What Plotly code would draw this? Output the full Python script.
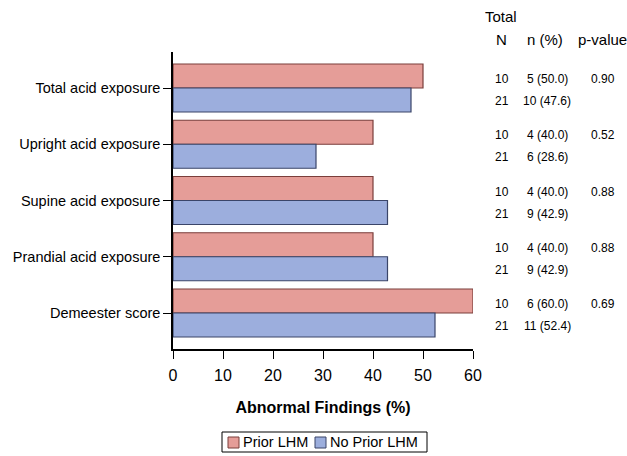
import plotly.graph_objects as go

# Outcome categories (top to bottom)
categories = [
    "Total acid exposure",
    "Upright acid exposure",
    "Supine acid exposure",
    "Prandial acid exposure",
    "Demeester score",
]

# Abnormal findings (%) per group
prior_pct = [50.0, 40.0, 40.0, 40.0, 60.0]
no_prior_pct = [47.6, 28.6, 42.9, 42.9, 52.4]

# Table columns
prior_total = [10, 10, 10, 10, 10]
prior_n = [5, 4, 4, 4, 6]
no_prior_total = [21, 21, 21, 21, 21]
no_prior_n = [10, 6, 9, 9, 11]
p_values = ["0.90", "0.52", "0.88", "0.88", "0.69"]

x_ticks = [0, 10, 20, 30, 40, 50, 60]
group_names = ["Prior LHM", "No Prior LHM"]

FONT = "Liberation Sans, Arial, sans-serif"
RED_FILL = "#E59D98"
RED_LINE = "#7A3E3B"
BLUE_FILL = "#9CAEDD"
BLUE_LINE = "#3A4569"

fig = go.Figure()
fig.add_trace(go.Bar(
    y=categories, x=prior_pct, orientation="h", name=group_names[0],
    marker=dict(color=RED_FILL, line=dict(color=RED_LINE, width=1.2)),
))
fig.add_trace(go.Bar(
    y=categories, x=no_prior_pct, orientation="h", name=group_names[1],
    marker=dict(color=BLUE_FILL, line=dict(color=BLUE_LINE, width=1.2)),
))

# pixel -> paper helpers for the 300x297 plot area
def px(xp):
    return (xp - 173) / 300

def py(yp):
    return (349 - yp) / 297

annotations = []
shapes = []

# Table header
annotations.append(dict(xref="paper", yref="paper", x=px(501), y=py(17),
                        text="Total", showarrow=False, xanchor="center", yanchor="middle",
                        font=dict(size=15, color="black", family=FONT)))
for xc, txt in [(501, "N"), (545, "n (%)"), (602, "p-value")]:
    annotations.append(dict(xref="paper", yref="paper", x=px(xc), y=py(39),
                            text=txt, showarrow=False, xanchor="center", yanchor="middle",
                            font=dict(size=15, color="black", family=FONT)))

# Table rows, one pair per category
for i, cat in enumerate(categories):
    rows = [
        (prior_total[i], prior_n[i], 9, p_values[i]),
        (no_prior_total[i], no_prior_n[i], -13, ""),
    ]
    for tot, n, shift, pv in rows:
        pct = 100.0 * n / tot
        for xc, txt in [(502, str(tot)), (547, f"{n} ({pct:.1f})"), (603, pv)]:
            if not txt:
                continue
            annotations.append(dict(xref="paper", yref="y", x=px(xc), y=cat, yshift=shift,
                                    text=txt, showarrow=False, xanchor="center", yanchor="middle",
                                    font=dict(size=12, color="black", family=FONT)))

# Compact boxed legend below the axis title
shapes.append(dict(type="rect", xref="paper", yref="paper",
                   x0=px(222), x1=px(427), y0=py(452), y1=py(432),
                   line=dict(color="black", width=1), fillcolor="white"))
legend_items = [(228, 243, RED_FILL, RED_LINE), (315, 330, BLUE_FILL, BLUE_LINE)]
for (sx, tx, fill, edge), name in zip(legend_items, group_names):
    shapes.append(dict(type="rect", xref="paper", yref="paper",
                       x0=px(sx), x1=px(sx + 11), y0=py(448), y1=py(437),
                       line=dict(color=edge, width=1), fillcolor=fill))
    annotations.append(dict(xref="paper", yref="paper", x=px(tx - 2), y=py(442),
                            text=name, showarrow=False, xanchor="left", yanchor="middle",
                            font=dict(size=14.5, color="black", family=FONT)))

fig.update_layout(
    width=627, height=456,
    margin=dict(l=173, r=154, t=52, b=107),
    paper_bgcolor="white", plot_bgcolor="white",
    barmode="group", bargap=0.147, bargroupgap=0,
    font=dict(family=FONT, size=15, color="black"),
    showlegend=False,
    xaxis=dict(
        range=[0, 60], tickvals=x_ticks, ticks="outside", ticklen=8, tickcolor="black",
        showline=True, linecolor="black", linewidth=1.5, showgrid=False, zeroline=False,
        tickfont=dict(size=16, family=FONT), automargin=False, ticklabelstandoff=3,
        title=dict(text="<b>Abnormal Findings (%)</b>", font=dict(size=16, family=FONT), standoff=19),
    ),
    yaxis=dict(
        categoryorder="array", categoryarray=categories,
        range=[4.64, -0.64], ticks="outside", ticklen=8, tickcolor="black",
        showline=True, linecolor="black", linewidth=1.5, showgrid=False, zeroline=False,
        tickfont=dict(size=14.5, family=FONT), automargin=False,
    ),
    annotations=annotations,
    shapes=shapes,
)

fig.write_html("out.html")
